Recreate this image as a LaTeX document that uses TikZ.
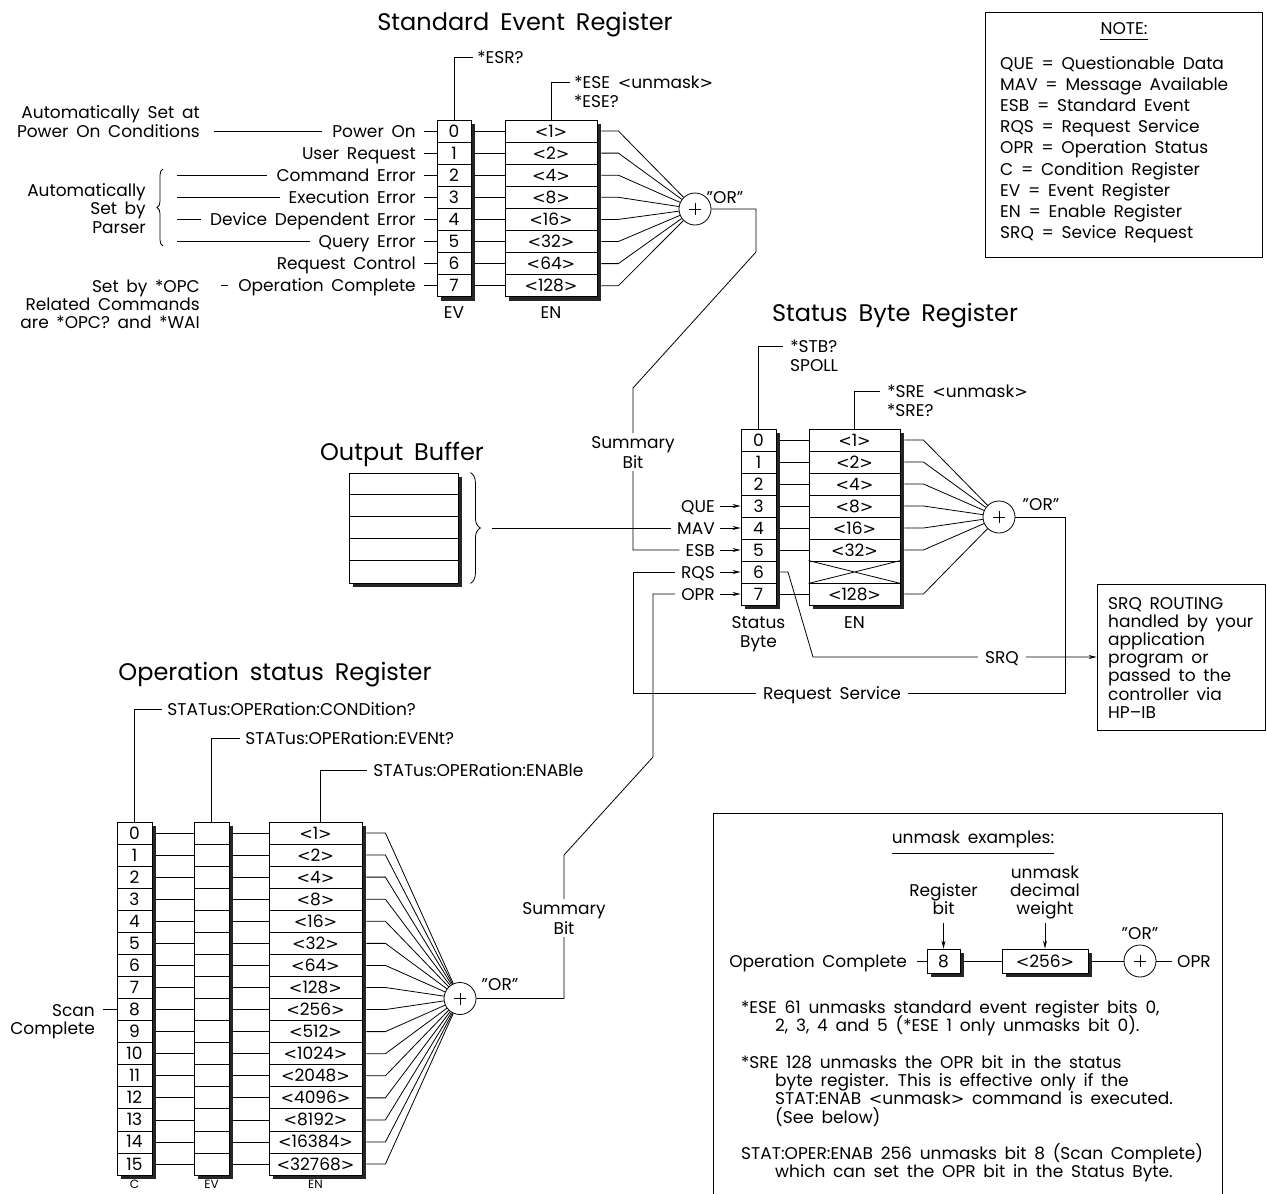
\documentclass[tikz,border=0pt]{standalone}
\usepackage{fontspec}
\setmainfont{Poppins}[WordSpace=1.7]
\newfontfamily\brk{DejaVu Sans}[Scale=0.95]
\newcommand\la{{\brk <}}
\newcommand\ra{{\brk >}}
\usetikzlibrary{arrows.meta,decorations.pathreplacing,calc}
\newcommand\fs{\fontsize{17}{20}\selectfont}
\newcommand\ft{\fontsize{24}{28}\selectfont}
\tikzset{
  wire/.style={line width=0.8pt},
  lbl/.style={inner sep=0pt, font=\fs, text height=12pt, text depth=0pt},
  ttl/.style={inner sep=0pt, font=\ft, text height=17pt, text depth=0pt},
  cell/.style={draw, line width=0.8pt, fill=white, inner sep=0pt, font=\fs, text height=12pt, text depth=0pt},
  shad/.style={fill=black!85},
  orc/.style={draw, line width=0.8pt, circle, fill=white, minimum size=32pt, inner sep=0pt},
  arr/.style={-{Stealth[length=8pt,width=4pt]}},
  gap/.style={fill=white, inner xsep=7pt, inner ysep=2pt},
  glbl/.style={fill=white, inner xsep=5pt, inner ysep=3pt, font=\fs, align=center},
  frame/.style={draw, line width=0.8pt, inner sep=0pt},
  botl/.style={inner sep=0pt, font=\fontsize{12}{14}\selectfont, text height=8.5pt, text depth=0pt},
}
\newcommand\plus[1]{\draw[wire] ($(#1)+(-6,0)$) -- ($(#1)+(6,0)$) ($(#1)+(0,-6)$) -- ($(#1)+(0,6)$);}
% xcenter, width, y0, pitch, last index
\newcommand\shadowcol[5]{\fill[shad] ({#1-#2/2+4},{#3-#4/2+4}) rectangle ({#1+#2/2+4},{#3+(#5+0.5)*#4+4});}
\begin{document}
\begin{tikzpicture}[x=1pt,y=-1pt]
\useasboundingbox[fill=white] (0,0) rectangle (1267,1194);

%%%%%%%%%%%% Standard Event Register
\node[ttl] (sert) at (525,22) {Standard Event Register};
\shadowcol{454}{34}{131}{22.1}{7}
\shadowcol{551}{92}{131}{22.1}{7}
\foreach \i/\w in {0/1,1/2,2/4,3/8,4/16,5/32,6/64,7/128}{
  \node[cell,minimum width=34pt,minimum height=22.1pt] (sev\i) at (454,{131+\i*22.1}) {\i};
  \node[cell,minimum width=92pt,minimum height=22.1pt] (sen\i) at (551,{131+\i*22.1}) {\la\w\ra};
}
\node[orc] (sor) at (695,209) {};
\plus{sor}
\node[lbl] (sorl) at (725,197) {"OR"};
\node[lbl] (sevl) at (454,312) {EV};
\node[lbl] (senl) at (551,312) {EN};
\foreach \i in {0,...,7}{
  \draw[wire] ([xshift=4pt]sev\i.east) -- (sen\i.west);
  \draw[wire] ([xshift=4pt]sen\i.east) -- ++(17,0) -- (sor);
}
\foreach \i/\lab in {0/Power On,1/User Request,2/Command Error,3/Execution Error,4/Device Dependent Error,5/Query Error,6/Request Control,7/Operation Complete}{
  \node[lbl,anchor=east] (sl\i) at (416,{131+\i*22.1}) {\lab};
  \draw[wire] ([xshift=-13pt]sev\i.west) -- (sev\i.west);
}
\node[lbl,anchor=east] (pa1) at (200,112) {Automatically Set at};
\node[lbl,anchor=east] (pa2) at (200,131) {Power On Conditions};
\draw[wire] ([xshift=14pt]pa2.east) -- ([xshift=-10pt]sl0.west);
\node[lbl,anchor=east] (ap1) at (146,190) {Automatically};
\node[lbl,anchor=east] (ap2) at (146,208) {Set by};
\node[lbl,anchor=east] (ap3) at (146,227) {Parser};
\draw[wire,decorate,decoration={brace,amplitude=6pt}] (163,246) -- (163,169);
\foreach \i in {2,...,5} \draw[wire] (177,{131+\i*22.1}) -- ([xshift=-9pt]sl\i.west);
\node[lbl,anchor=east] (op1) at (200,286) {Set by *OPC};
\node[lbl,anchor=east] (op2) at (200,304) {Related Commands};
\node[lbl,anchor=east] (op3) at (200,322) {are *OPC? and *WAI};
\draw[wire] ([xshift=-17pt]sl7.west) -- ([xshift=-10pt]sl7.west);
\draw[wire] (sev0.north) |- (473,57) node[lbl,anchor=west,xshift=4pt] (esr) {*ESR?};
\draw[wire] (sen0.north) |- (570,82) node[lbl,anchor=west,xshift=4pt] (ese) {*ESE\ \la unmask\ra};
\node[lbl,anchor=west] (ese2) at (574,101) {*ESE?};

%%%%%%%%%%%% Status Byte Register
\node[ttl] (sbt) at (895,313) {Status Byte Register};
\shadowcol{758.5}{35}{440}{22}{7}
\shadowcol{854.5}{91}{440}{22}{7}
\foreach \i/\w in {0/\la1\ra,1/\la2\ra,2/\la4\ra,3/\la8\ra,4/\la16\ra,5/\la32\ra,6/{},7/\la128\ra}{
  \node[cell,minimum width=35pt,minimum height=22pt] (sb\i) at (758.5,{440+\i*22}) {\i};
  \node[cell,minimum width=91pt,minimum height=22pt] (sbe\i) at (854.5,{440+\i*22}) {\w};
}
\draw[wire] (sbe6.north west) -- (sbe6.south east) (sbe6.south west) -- (sbe6.north east);
\node[orc] (sbor) at (999,517) {};
\plus{sbor}
\node[lbl] (sborl) at (1041,504) {"OR"};
\foreach \i in {0,1,2,3,4,5,7}{
  \draw[wire] ([xshift=4pt]sb\i.east) -- (sbe\i.west);
  \draw[wire] ([xshift=4pt]sbe\i.east) -- ++(19,0) -- (sbor);
}
\node[lbl] (sbl1) at (758.5,622) {Status};
\node[lbl] (sbl2) at (758.5,641) {Byte};
\node[lbl] (sbl3) at (854.5,622) {EN};
\draw[wire] (sb0.north) |- (783,346) node[lbl,anchor=west,xshift=7pt] (stb) {*STB?};
\node[lbl,anchor=west] (spoll) at (790,365) {SPOLL};
\draw[wire] (sbe0.north) |- (880,391) node[lbl,anchor=west,xshift=7pt] (sre) {*SRE\ \la unmask\ra};
\node[lbl,anchor=west] (sre2) at (887,410) {*SRE?};
\foreach \i/\lab in {3/QUE,4/MAV,5/ESB,6/RQS,7/OPR}{
  \node[lbl,anchor=east] (in\lab) at (715,{440+\i*22}) {\lab};
  \draw[wire,arr] ([xshift=5pt]in\lab.east) -- (sb\i.west);
}

%%%%%%%%%%%% Output Buffer
\node[ttl] (obt) at (402,452) {Output Buffer};
\fill[shad] (353,477) rectangle (462,587);
\node[frame,fill=white,minimum width=109pt,minimum height=110pt] (ob) at (403.5,528) {};
\foreach \k in {1,...,4} \draw[wire] ($(ob.north west)+(0,{22*\k})$) -- ($(ob.north east)+(0,{22*\k})$);
\draw[wire,decorate,decoration={brace,amplitude=10pt}] ([xshift=12pt]ob.north east) -- ([xshift=12pt]ob.south east);
\coordinate (obtip) at (492,528);
\draw[wire] (obtip) -- ([xshift=-6pt]inMAV.west);

%%%%%%%%%%%% SRQ routing box
\node[frame,minimum width=168pt,minimum height=146pt] (srqbox) at (1181,657) {};
\foreach \k/\lab in {0/SRQ ROUTING,1/handled by your,2/application,3/program or,4/passed to the,5/controller via,6/HP--IB}{
  \node[lbl,anchor=west] (srqt\k) at (1108,{603+\k*18.2}) {\lab};
}

%%%%%%%%%%%% connectors of status byte
\draw[wire] (sor.east) -- (756,209) -- (756,252) -- (633,388) -- (633,550) -- ([xshift=-6pt]inESB.west);
\node[glbl] (sumA) at (633,452) {Summary\\Bit};
\draw[wire] (sbor.east) -- (1065,517) -- (1065,693) -- (633,693) -- (633,572) -- ([xshift=-6pt]inRQS.west);
\node[lbl,gap] (rsv) at (832,693) {Request Service};
\draw[wire,arr] ([xshift=4pt]sb6.east) -- (788,572) -- (813,657) -- (srqbox.west);
\node[lbl,gap] (srq) at (1002,657) {SRQ};

%%%%%%%%%%%% Operation status Register
\node[ttl] (ost) at (275,672) {Operation status Register};
\shadowcol{134.5}{35}{833}{22.07}{15}
\shadowcol{211.5}{35}{833}{22.07}{15}
\shadowcol{315.5}{93}{833}{22.07}{15}
\foreach \i/\w in {0/1,1/2,2/4,3/8,4/16,5/32,6/64,7/128,8/256,9/512,10/1024,11/2048,12/4096,13/8192,14/16384,15/32768}{
  \node[cell,minimum width=35pt,minimum height=22.07pt] (oc\i) at (134.5,{833+\i*22.07}) {\i};
  \node[cell,minimum width=35pt,minimum height=22.07pt] (oev\i) at (211.5,{833+\i*22.07}) {};
  \node[cell,minimum width=93pt,minimum height=22.07pt] (oen\i) at (315.5,{833+\i*22.07}) {\la\w\ra};
}
\node[orc] (oor) at (460,998.5) {};
\plus{oor}
\node[lbl] (oorl) at (500,984) {"OR"};
\foreach \i in {0,...,15}{
  \draw[wire] ([xshift=4pt]oc\i.east) -- (oev\i.west);
  \draw[wire] ([xshift=4pt]oev\i.east) -- (oen\i.west);
  \draw[wire] ([xshift=4pt]oen\i.east) -- ++(19,0) -- (oor);
}
\draw[wire] (oc0.north) |- (162,709) node[lbl,anchor=west,xshift=5pt] (qcond) {STATus:OPERation:CONDition?};
\draw[wire] (oev0.north) |- (240,738) node[lbl,anchor=west,xshift=5pt] (qev) {STATus:OPERation:EVENt?};
\draw[wire] ([xshift=5pt]oen0.north) |- (367,770) node[lbl,anchor=west,xshift=6pt] (qen) {STATus:OPERation:ENABle};
\node[lbl,anchor=east] (scan1) at (95,1010) {Scan};
\node[lbl,anchor=east] (scan2) at (95,1028) {Complete};
\draw[wire] ([xshift=-14pt]oc8.west) -- (oc8.west);
\node[botl] (ocl) at (134.5,1184.5) {C};
\node[botl] (oevl) at (211.5,1184.5) {EV};
\node[botl] (oenl) at (315.5,1184.5) {EN};
\draw[wire] ([xshift=-6pt]inOPR.west) -- (653,594) -- (653,757) -- (564,855) -- (564,998.5) -- (oor.east);
\node[glbl] (sumB) at (564,918) {Summary\\Bit};

%%%%%%%%%%%% NOTE box
\draw[wire] (985,12) rectangle (1262,257);
\node[lbl] (nt) at (1124,28) {NOTE:};
\draw[wire] ([yshift=-5pt]nt.south west) -- ([yshift=-5pt]nt.south east);
\foreach \k/\lab in {0/QUE = Questionable Data,1/MAV = Message Available,2/ESB = Standard Event,3/RQS = Request Service,4/OPR = Operation Status,5/C = Condition Register,6/EV = Event Register,7/EN = Enable Register,8/SRQ = Sevice Request}{
  \node[lbl,anchor=west] (nl\k) at (1000,{63+\k*21.2}) {\lab};
}

%%%%%%%%%%%% unmask examples
\draw[wire] (713,1215) -- (713,813) -- (1222,813) -- (1222,1215);
\node[lbl] (ux) at (973,837) {unmask examples:};
\draw[wire] ([yshift=-10pt]ux.south west) -- ([yshift=-10pt]ux.south east);
\node[lbl] (rb1) at (943.5,890) {Register};
\node[lbl] (rb2) at (943.5,908) {bit};
\node[lbl] (uw1) at (1045,872) {unmask};
\node[lbl] (uw2) at (1045,890) {decimal};
\node[lbl] (uw3) at (1045,908) {weight};
\fill[shad] (931,953) rectangle (964,977);
\node[cell,minimum width=33pt,minimum height=24pt] (b8) at (943.5,961) {8};
\fill[shad] (1006,953) rectangle (1092,977);
\node[cell,minimum width=86pt,minimum height=24pt] (b256) at (1045,961) {\la256\ra};
\node[orc] (uor) at (1140,961) {};
\plus{uor}
\node[lbl] (uorl) at (1140,933) {"OR"};
\node[lbl,anchor=west] (uopr) at (1177,961) {OPR};
\node[lbl,anchor=east] (uopc) at (907,961) {Operation Complete};
\coordinate (ra) at (943.5,923);
\coordinate (wa) at (1045,923);
\draw[wire,arr] (ra) -- (b8.north);
\draw[wire,arr] (wa) -- (b256.north);
\draw[wire] ([xshift=-10pt]b8.west) -- (b8.west);
\draw[wire] ([xshift=4pt]b8.east) -- (b256.west);
\draw[wire] ([xshift=4pt]b256.east) -- (uor);
\draw[wire] (uor) -- ([xshift=-5pt]uopr.west);
\node[lbl,anchor=west] (p1) at (741,1007) {*ESE 61 unmasks standard event register bits 0,};
\node[lbl,anchor=west] (p2) at (775,1025) {2, 3, 4 and 5 (*ESE 1 only unmasks bit 0).};
\node[lbl,anchor=west] (p3) at (741,1062) {*SRE 128 unmasks the OPR bit in the status};
\node[lbl,anchor=west] (p4) at (775,1080) {byte register. This is effective only if the};
\node[lbl,anchor=west] (p5) at (775,1098) {STAT:ENAB \la unmask\ra\ command is executed.};
\node[lbl,anchor=west] (p6) at (775,1117) {(See below)};
\node[lbl,anchor=west] (p7) at (741,1153) {STAT:OPER:ENAB 256 unmasks bit 8 (Scan Complete)};
\node[lbl,anchor=west] (p8) at (775,1171) {which can set the OPR bit in the Status Byte.};
\end{tikzpicture}
\end{document}
